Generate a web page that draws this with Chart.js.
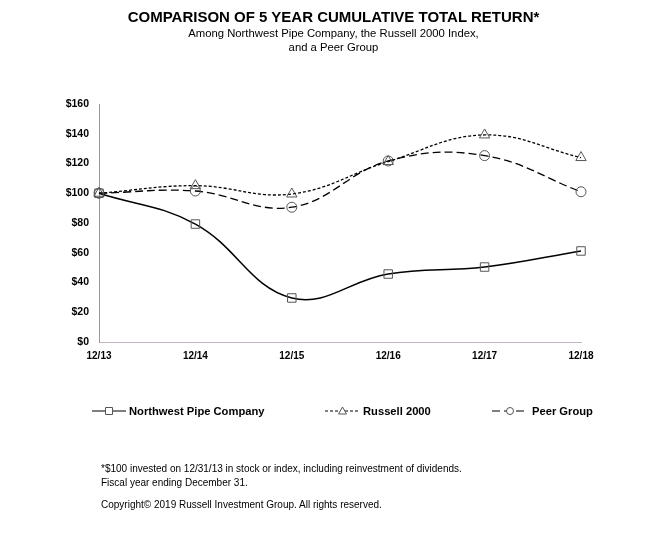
<!DOCTYPE html>
<html>
<head>
<meta charset="utf-8">
<script src="https://cdn.jsdelivr.net/npm/chart.js@4"></script>
<style>
  body { margin: 0; background: #fff; font-family: 'Liberation Sans', Arial, sans-serif; }
  #wrap { position: relative; width: 667px; height: 554px; }
  canvas { position: absolute; left: 0; top: 0; }
  .txt { position: absolute; color: #000; white-space: nowrap; }
  #title { left: 0; width: 667px; top: 8px; text-align: center; font-weight: bold; font-size: 15px; }
  #sub { left: 0; width: 667px; top: 27px; text-align: center; font-size: 11.3px; line-height: 13.5px; }
  #note { left: 101px; top: 462px; font-size: 10px; line-height: 14px; }
  #copy { left: 101px; top: 499px; font-size: 10px; }
</style>
</head>
<body>
<div id="wrap">
  <canvas id="chart" width="667" height="554"></canvas>
  <div class="txt" id="title">COMPARISON OF 5 YEAR CUMULATIVE TOTAL RETURN*</div>
  <div class="txt" id="sub">Among Northwest Pipe Company, the Russell 2000 Index,<br>and a Peer Group</div>
  <div class="txt" id="note">*$100 invested on 12/31/13 in stock or index, including reinvestment of dividends.<br>Fiscal year ending December 31.</div>
  <div class="txt" id="copy">Copyright© 2019 Russell Investment Group. All rights reserved.</div>
</div>
<script>
'use strict';
const years = ['12/13', '12/14', '12/15', '12/16', '12/17', '12/18'];
const northwest = [100, 79.3, 29.6, 45.7, 50.4, 61.2];
const russell = [100, 105.1, 99.5, 121.3, 139.2, 124.0];
const peer = [100, 101.5, 90.6, 121.7, 125.3, 101.0];
const seriesNames = ['Northwest Pipe Company', 'Russell 2000', 'Peer Group'];

const legendPos = [
  { x1: 92, x2: 126, tx: 129 },
  { x1: 325, x2: 360, tx: 363 },
  { x1: 492, x2: 528, tx: 532 },
];

const customLegend = {
  id: 'customLegend',
  afterDraw(chart) {
    const ctx = chart.ctx;
    const y = 411;
    chart.data.datasets.forEach((ds, i) => {
      const p = legendPos[i];
      ctx.save();
      ctx.strokeStyle = '#000';
      ctx.lineWidth = 1.2;
      ctx.setLineDash(ds.borderDash || []);
      ctx.beginPath();
      ctx.moveTo(p.x1, y);
      ctx.lineTo(p.x2, y);
      ctx.stroke();
      ctx.setLineDash([]);
      const cx = (p.x1 + p.x2) / 2;
      ctx.fillStyle = '#fff';
      ctx.strokeStyle = '#555';
      ctx.lineWidth = 1;
      ctx.beginPath();
      if (ds.pointStyle === 'rect') {
        ctx.rect(cx - 3.5, y - 3.5, 7, 7);
      } else if (ds.pointStyle === 'triangle') {
        ctx.moveTo(cx, y - 4);
        ctx.lineTo(cx + 4, y + 3);
        ctx.lineTo(cx - 4, y + 3);
        ctx.closePath();
      } else {
        ctx.arc(cx, y, 3.5, 0, Math.PI * 2);
      }
      ctx.fill();
      ctx.stroke();
      ctx.fillStyle = '#000';
      ctx.font = "bold 11.2px 'Liberation Sans', Arial, sans-serif";
      ctx.textBaseline = 'middle';
      ctx.fillText(seriesNames[i], p.tx, y + 0.5);
      ctx.restore();
    });
  },
};

const ctx = document.getElementById('chart').getContext('2d');
const chart = new Chart(ctx, {
  type: 'line',
  data: {
    labels: years,
    datasets: [
      {
        label: seriesNames[0],
        data: northwest,
        borderColor: '#000',
        borderWidth: 1.5,
        pointStyle: 'rect',
        pointRadius: 6,
        pointBackgroundColor: 'rgba(255,255,255,0)',
        pointBorderColor: '#555',
        pointBorderWidth: 1,
        tension: 0.4,
      },
      {
        label: seriesNames[1],
        data: russell,
        borderColor: '#000',
        borderWidth: 1.3,
        borderDash: [3, 2],
        pointStyle: 'triangle',
        pointRadius: 6,
        pointBackgroundColor: 'rgba(255,255,255,0)',
        pointBorderColor: '#555',
        pointBorderWidth: 1,
        tension: 0.4,
      },
      {
        label: seriesNames[2],
        data: peer,
        borderColor: '#000',
        borderWidth: 1.3,
        borderDash: [8, 4],
        pointStyle: 'circle',
        pointRadius: 5,
        pointBackgroundColor: 'rgba(255,255,255,0)',
        pointBorderColor: '#555',
        pointBorderWidth: 1,
        tension: 0.4,
      },
    ],
  },
  options: {
    responsive: false,
    animation: false,
    events: [],
    layout: { padding: { left: 0, right: 86, top: 104, bottom: 186 } },
    plugins: {
      legend: { display: false },
      tooltip: { enabled: false },
    },
    scales: {
      x: {
        offset: false,
        grid: { display: false },
        border: { display: true, color: '#c4b4c4', width: 1 },
        ticks: {
          color: '#000',
          font: { family: "'Liberation Sans', Arial, sans-serif", size: 10, weight: 'bold' },
          maxRotation: 0,
          padding: 0,
        },
        afterFit(scale) { scale.height = 26; },
      },
      y: {
        min: 0,
        max: 160,
        ticks: {
          stepSize: 20,
          color: '#000',
          font: { family: "'Liberation Sans', Arial, sans-serif", size: 10.5, weight: 'bold' },
          callback: (v) => '$' + v,
          padding: 2,
        },
        grid: { display: false },
        border: { display: true, color: '#999', width: 1 },
        afterFit(scale) { scale.width = 99; },
      },
    },
  },
  plugins: [customLegend],
});
</script>
</body>
</html>
